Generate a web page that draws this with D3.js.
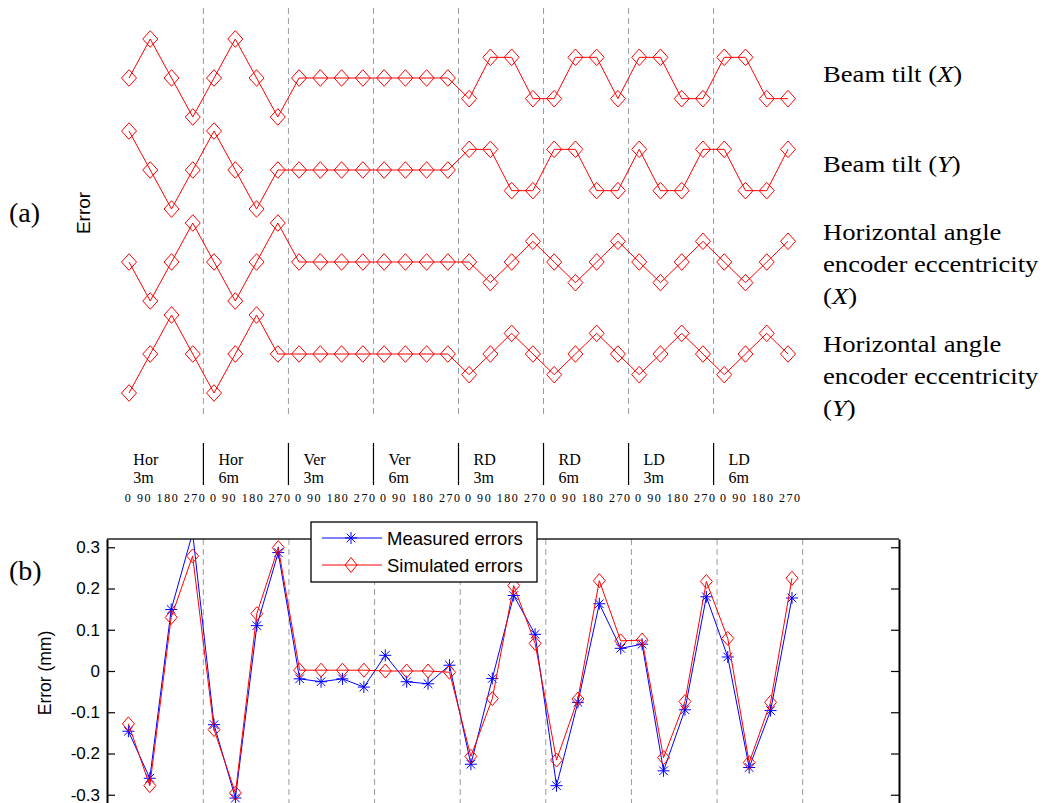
<!DOCTYPE html>
<html>
<head>
<meta charset="utf-8">
<script src="https://cdn.jsdelivr.net/npm/d3@7"></script>
<style>
  body { margin: 0; background: #fff; }
  svg { display: block; }
</style>
</head>
<body>
<div id="chart"></div>
<script>

// ---- data ----

// measurement set-ups (8 groups x 4 face angles)
const setups    = ["Hor", "Hor", "Ver", "Ver", "RD", "RD", "LD", "LD"];
const distances = ["3m", "6m", "3m", "6m", "3m", "6m", "3m", "6m"];
const angles    = ["0", "90", "180", "270"];

// (a) error signatures, relative units (+1 = full swing up)
const beamTiltX = [
  0, 1, 0, -1,   0, 1, 0, -1,
  0, 0, 0, 0,    0, 0, 0, 0,
  -0.53, 0.53, 0.53, -0.53,   -0.53, 0.53, 0.53, -0.53,
  0.53, 0.53, -0.53, -0.53,   0.53, 0.53, -0.53, -0.53
];
const beamTiltY = [
  1, 0, -1, 0,   1, 0, -1, 0,
  0, 0, 0, 0,    0, 0, 0, 0,
  0.53, 0.53, -0.53, -0.53,   0.53, 0.53, -0.53, -0.53,
  0.53, -0.53, -0.53, 0.53,   0.53, -0.53, -0.53, 0.53
];
const eccentricityX = [
  0, -1, 0, 1,   0, -1, 0, 1,
  0, 0, 0, 0,    0, 0, 0, 0,
  0, -0.53, 0, 0.53,   0, -0.53, 0, 0.53,
  0, -0.53, 0, 0.53,   0, -0.53, 0, 0.53
];
const eccentricityY = [
  -1, 0, 1, 0,   -1, 0, 1, 0,
  0, 0, 0, 0,    0, 0, 0, 0,
  -0.53, 0, 0.53, 0,   -0.53, 0, 0.53, 0,
  -0.53, 0, 0.53, 0,   -0.53, 0, 0.53, 0
];

// row labels, *...* = italic
const componentLabels = [
  ["Beam tilt (*X*)"],
  ["Beam tilt (*Y*)"],
  ["Horizontal angle", "encoder eccentricity", "(*X*)"],
  ["Horizontal angle", "encoder eccentricity", "(*Y*)"]
];

// (b) errors in mm
const measured = [
  -0.146, -0.260, 0.149, 0.335,   -0.130, -0.308, 0.110, 0.287,
  -0.019, -0.026, -0.019, -0.039,   0.038, -0.026, -0.031, 0.014,
  -0.226, -0.018, 0.183, 0.089,   -0.278, -0.076, 0.163, 0.055,
  0.065, -0.242, -0.094, 0.180,   0.034, -0.234, -0.096, 0.177
];
const simulated = [
  -0.128, -0.278, 0.130, 0.279,   -0.142, -0.296, 0.139, 0.299,
  0.002, 0.002, 0.002, 0.002,   0.000, 0.000, 0.000, -0.003,
  -0.207, -0.067, 0.207, 0.067,   -0.216, -0.068, 0.219, 0.073,
  0.075, -0.210, -0.074, 0.217,   0.079, -0.222, -0.076, 0.225
];
const seriesNames = ["Measured errors", "Simulated errors"];
const yTicks = [-0.3, -0.2, -0.1, 0, 0.1, 0.2, 0.3];


// ---- drawing ----

const W = 1047, H = 803;
const SERIF = "'Liberation Serif', 'Times New Roman', serif";
const SANS  = "'Liberation Sans', Arial, sans-serif";
const RED = "#ff0000", BLUE = "#0000ff", GRID = "#9a9a9a";

const svg = d3.select("#chart").append("svg")
  .attr("width", W)
  .attr("height", H);

svg.append("rect").attr("width", W).attr("height", H).attr("fill", "#fff");

function diamond(hw, hh) {
  return `M0,${-hh}L${hw},0L0,${hh}L${-hw},0Z`;
}
const star = "M-6,0H6M0,-6V6M-4.3,-4.3L4.3,4.3M-4.3,4.3L4.3,-4.3";

// group boundaries sit halfway between angle 270 and the next 0
const boundaries = d3.range(1, setups.length + 1).map(k => 4 * k + 0.5);


// ======== (a) ========
function drawTop() {
  const x = d3.scaleLinear().domain([1, 32]).range([129, 788]);
  const rowY = d3.scalePoint().domain(d3.range(4)).range([78, 354]);
  const y = d3.scaleLinear().domain([-1, 1]).range([39, -39]);

  const g = svg.append("g");

  // dashed separators
  g.selectAll("line.sep")
    .data(boundaries.slice(0, -1))
    .join("line")
    .attr("class", "sep")
    .attr("x1", d => x(d)).attr("x2", d => x(d))
    .attr("y1", 8).attr("y2", 417)
    .attr("stroke", GRID)
    .attr("stroke-width", 1)
    .attr("stroke-dasharray", "6,4");

  const line = d3.line()
    .x((d, i) => x(i + 1))
    .y(d => y(d));

  const rows = [beamTiltX, beamTiltY, eccentricityX, eccentricityY];

  rows.forEach((vals, r) => {
    const rg = g.append("g").attr("transform", `translate(0,${rowY(r)})`);

    rg.append("path")
      .datum(vals)
      .attr("fill", "none")
      .attr("stroke", RED)
      .attr("stroke-width", 1)
      .attr("d", line);

    rg.selectAll("path.mk")
      .data(vals)
      .join("path")
      .attr("class", "mk")
      .attr("transform", (d, i) => `translate(${x(i + 1)},${y(d)})`)
      .attr("d", diamond(7.5, 8.3))
      .attr("fill", "none")
      .attr("stroke", RED)
      .attr("stroke-width", 1);
  });

  // right-hand labels
  const labelTop = [82, 172, 240, 352];
  componentLabels.forEach((lines, r) => {
    lines.forEach((txt, k) => {
      const t = g.append("text")
        .attr("transform", `translate(823,${labelTop[r] + k * 32}) scale(1.16,1)`)
        .attr("font-family", SERIF)
        .attr("font-size", 23)
        .attr("fill", "#000");
      txt.split("*").forEach((part, j) => {
        if (!part) return;
        t.append("tspan")
          .attr("font-style", j % 2 ? "italic" : "normal")
          .text(part);
      });
    });
  });

  // panel tag + y label
  g.append("text")
    .attr("x", 9).attr("y", 222)
    .attr("font-family", SERIF).attr("font-size", 28)
    .text("(a)");

  g.append("text")
    .attr("transform", "translate(83,213) rotate(-90)")
    .attr("text-anchor", "middle")
    .attr("dominant-baseline", "central")
    .attr("font-family", SANS).attr("font-size", 19)
    .text("Error");

  // set-up labels under the panel
  const lab = g.append("g");
  setups.forEach((s, i) => {
    const x0 = x(4 * i + 0.5);
    lab.append("text")
      .attr("x", x0 + 15).attr("y", 465)
      .attr("font-family", SERIF).attr("font-size", 16)
      .text(s);
    lab.append("text")
      .attr("x", x0 + 15).attr("y", 483)
      .attr("font-family", SERIF).attr("font-size", 16)
      .text(distances[i]);
    lab.append("text")
      .attr("x", x0 + 6.5).attr("y", 502)
      .attr("font-family", SERIF).attr("font-size", 12)
      .attr("textLength", 80)
      .attr("lengthAdjust", "spacing")
      .text(angles.join(" "));
  });

  lab.selectAll("line")
    .data(boundaries.slice(0, -1))
    .join("line")
    .attr("x1", d => x(d)).attr("x2", d => x(d))
    .attr("y1", 443).attr("y2", 485)
    .attr("stroke", "#000")
    .attr("stroke-width", 1.2);
}


// ======== (b) ========
function drawBottom() {
  const left = 107, right = 899, top = 539, bottom = 803;
  const x = d3.scaleLinear().domain([0, 37]).range([left, right]);
  const y = d3.scaleLinear().domain([-0.32, 0.32]).range([bottom, top]);

  const g = svg.append("g");

  g.append("clipPath").attr("id", "plotClip")
    .append("rect")
    .attr("x", left).attr("y", top)
    .attr("width", right - left).attr("height", bottom - top);

  // dashed separators
  g.selectAll("line.sep")
    .data(boundaries)
    .join("line")
    .attr("class", "sep")
    .attr("x1", d => x(d)).attr("x2", d => x(d))
    .attr("y1", top).attr("y2", bottom)
    .attr("stroke", GRID)
    .attr("stroke-width", 1)
    .attr("stroke-dasharray", "6,4");

  const line = d3.line()
    .x((d, i) => x(i + 1))
    .y(d => y(d));

  const plot = g.append("g").attr("clip-path", "url(#plotClip)");

  // measured: blue stars
  plot.append("path")
    .datum(measured)
    .attr("fill", "none")
    .attr("stroke", BLUE)
    .attr("stroke-width", 1)
    .attr("d", line);

  plot.selectAll("path.star")
    .data(measured)
    .join("path")
    .attr("class", "star")
    .attr("transform", (d, i) => `translate(${x(i + 1)},${y(d)})`)
    .attr("d", star)
    .attr("fill", "none")
    .attr("stroke", BLUE)
    .attr("stroke-width", 1);

  // simulated: red diamonds
  plot.append("path")
    .datum(simulated)
    .attr("fill", "none")
    .attr("stroke", RED)
    .attr("stroke-width", 1)
    .attr("d", line);

  plot.selectAll("path.dia")
    .data(simulated)
    .join("path")
    .attr("class", "dia")
    .attr("transform", (d, i) => `translate(${x(i + 1)},${y(d)})`)
    .attr("d", diamond(6, 7))
    .attr("fill", "none")
    .attr("stroke", RED)
    .attr("stroke-width", 1);

  // axes box (MATLAB style, ticks inward)
  const fmt = v => v === 0 ? "0" : v.toFixed(1);

  const ax = g.append("g")
    .attr("transform", `translate(${left},0)`)
    .call(d3.axisLeft(y).tickValues(yTicks).tickSize(-8).tickSizeOuter(0)
      .tickPadding(7).tickFormat(fmt));
  ax.select(".domain").attr("stroke", "#000").attr("stroke-width", 2);
  ax.selectAll(".tick line").attr("stroke", "#000").attr("stroke-width", 1.2);
  ax.selectAll(".tick text")
    .attr("font-family", SANS).attr("font-size", 17).attr("fill", "#000");

  const axR = g.append("g")
    .attr("transform", `translate(${right},0)`)
    .call(d3.axisRight(y).tickValues(yTicks).tickSize(-8).tickSizeOuter(0)
      .tickFormat(""));
  axR.select(".domain").attr("stroke", "#000").attr("stroke-width", 2);
  axR.selectAll(".tick line").attr("stroke", "#000").attr("stroke-width", 1.2);

  g.append("line")
    .attr("x1", left).attr("x2", right)
    .attr("y1", top).attr("y2", top)
    .attr("stroke", "#222")
    .attr("stroke-width", 1.4);

  g.append("text")
    .attr("x", 9).attr("y", 580)
    .attr("font-family", SERIF).attr("font-size", 28)
    .text("(b)");

  g.append("text")
    .attr("transform", "translate(45,673) rotate(-90)")
    .attr("text-anchor", "middle")
    .attr("dominant-baseline", "central")
    .attr("font-family", SANS).attr("font-size", 17.5)
    .text("Error (mm)");

  // legend
  const leg = g.append("g");
  leg.append("rect")
    .attr("x", 311).attr("y", 522)
    .attr("width", 226).attr("height", 60)
    .attr("fill", "#fff")
    .attr("stroke", "#000")
    .attr("stroke-width", 1.3);

  const legRows = [
    { name: seriesNames[0], color: BLUE, mark: star },
    { name: seriesNames[1], color: RED,  mark: diamond(6, 7.5) }
  ];
  legRows.forEach((d, i) => {
    const ly = 538 + i * 27;
    leg.append("line")
      .attr("x1", 322).attr("x2", 382)
      .attr("y1", ly).attr("y2", ly)
      .attr("stroke", d.color).attr("stroke-width", 1);
    leg.append("path")
      .attr("transform", `translate(351,${ly})`)
      .attr("d", d.mark)
      .attr("fill", "none")
      .attr("stroke", d.color).attr("stroke-width", 1);
    leg.append("text")
      .attr("x", 387).attr("y", ly)
      .attr("dominant-baseline", "central")
      .attr("font-family", SANS).attr("font-size", 18.5)
      .text(d.name);
  });
}

drawTop();
drawBottom();
</script>
</body>
</html>
